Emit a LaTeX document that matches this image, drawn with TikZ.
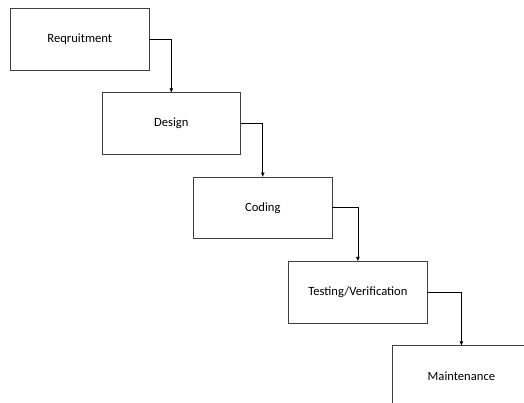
\documentclass[tikz,border=0pt]{standalone}
\usepackage{fontspec}
\setmainfont{Carlito}
\usetikzlibrary{positioning}
\usetikzlibrary{arrows.meta}

\begin{document}
\begin{tikzpicture}[
	x=1pt, y=1pt,
	phase/.style={rectangle, draw=black!75, line width=0.9pt, minimum width=138.5pt, minimum height=61.6pt, inner sep=0pt, outer sep=0pt, font=\fontsize{12.6}{15}\selectfont},
	flow/.style={-{Latex[length=4.5pt,width=4pt]}, line width=0.8pt},
]
	\useasboundingbox (0,0) rectangle (524,-403);
	\clip (0,0) rectangle (524,-403);

	\node[phase] (req) at (79.8,-39.2) {Reqruitment};
	\node[phase, below right=22.8pt and -47pt of req] (design) {Design};
	\node[phase, below right=22.7pt and -47pt of design] (coding) {Coding};
	\node[phase, below right=22.7pt and -43.4pt of coding] (testing) {Testing/Verification};
	\node[phase, below right=22.8pt and -35pt of testing] (maint) {Maintenance};

	\draw[flow] (req) -| (design);
	\draw[flow] (design) -| (coding);
	\draw[flow] (coding) -| (testing);
	\draw[flow] (testing) -| (maint);
\end{tikzpicture}
\end{document}
